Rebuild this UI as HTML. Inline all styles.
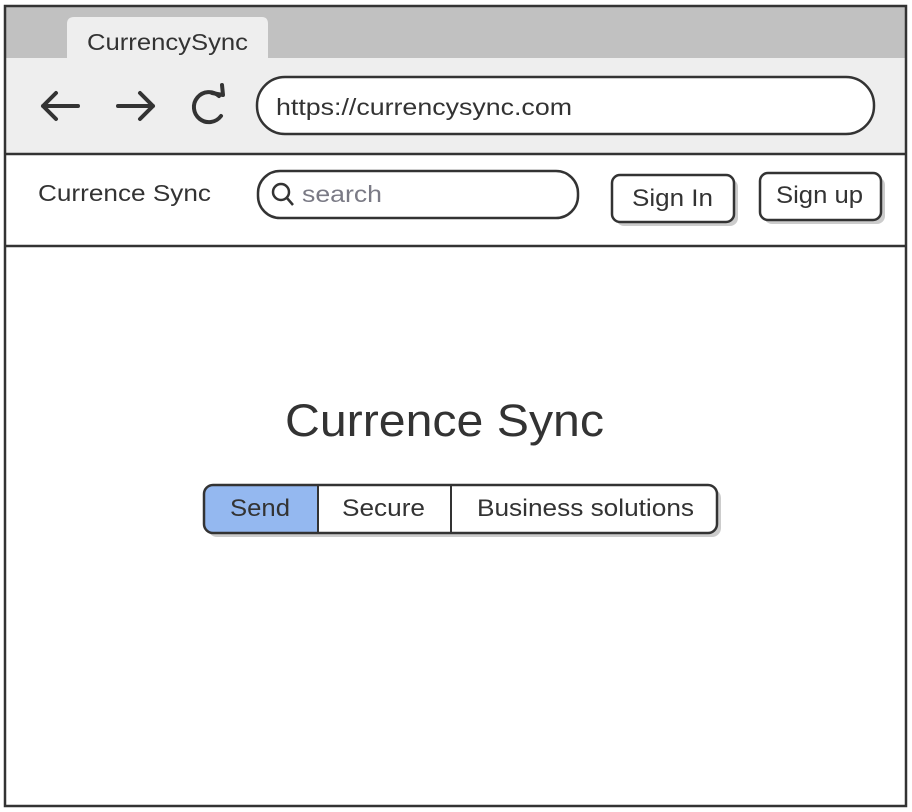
<!DOCTYPE html>
<html><head><style>
html,body{margin:0;padding:0;background:#fff;}
svg{display:block;}
text{font-family:"Liberation Sans",sans-serif;fill:#333;}
</style></head><body>
<svg width="912" height="812" viewBox="0 0 912 812" xmlns="http://www.w3.org/2000/svg">
<rect x="5" y="6" width="901" height="800" fill="#fff"/>
<rect x="5" y="6" width="901" height="52" fill="#c1c1c1"/>
<rect x="5" y="58" width="901" height="96" fill="#eeeeee"/>
<path d="M67 58 V24 Q67 17 74 17 H262 Q268 17 268 24 V58 Z" fill="#eeeeee"/>
<text x="87" y="50" font-size="23" textLength="161" lengthAdjust="spacingAndGlyphs">CurrencySync</text>
<g stroke="#333" stroke-width="4" fill="none" stroke-linecap="round" stroke-linejoin="round">
<path d="M43 106 H78 M56 93 L43 106 L56 119"/>
<path d="M118 106 H153 M140 93 L153 106 L140 119"/>
<path d="M219 96 A15 15 0 1 0 221 116"/>
<path d="M212 93 L223 95 L222 85" />
</g>
<rect x="257" y="77" width="617" height="57" rx="28" fill="#fff" stroke="#333" stroke-width="2.5"/>
<text x="276" y="115" font-size="23" textLength="296" lengthAdjust="spacingAndGlyphs">https://currencysync.com</text>
<line x1="5" y1="154" x2="906" y2="154" stroke="#333" stroke-width="2.5"/>
<line x1="5" y1="246" x2="906" y2="246" stroke="#333" stroke-width="2.5"/>
<text x="38" y="201" font-size="23" textLength="173" lengthAdjust="spacingAndGlyphs">Currence Sync</text>
<rect x="258" y="171" width="320" height="47" rx="22" fill="#fff" stroke="#333" stroke-width="2.5"/>
<circle cx="281" cy="192" r="8" fill="none" stroke="#333" stroke-width="2.5"/>
<line x1="287" y1="198" x2="293" y2="205" stroke="#333" stroke-width="2.5"/>
<text x="302" y="202" font-size="23" style="fill:#7a7a85" textLength="80" lengthAdjust="spacingAndGlyphs">search</text>
<rect x="616" y="179" width="122" height="47" rx="8" fill="#ccc"/>
<rect x="612" y="175" width="122" height="47" rx="8" fill="#fff" stroke="#333" stroke-width="2.5"/>
<text x="632" y="206" font-size="24" textLength="81" lengthAdjust="spacingAndGlyphs">Sign In</text>
<rect x="764" y="177" width="121" height="47" rx="8" fill="#ccc"/>
<rect x="760" y="173" width="121" height="47" rx="8" fill="#fff" stroke="#333" stroke-width="2.5"/>
<text x="776" y="203" font-size="24" textLength="87" lengthAdjust="spacingAndGlyphs">Sign up</text>
<text x="285" y="436" font-size="45" textLength="319" lengthAdjust="spacingAndGlyphs">Currence Sync</text>
<rect x="208" y="489" width="513" height="48" rx="9" fill="#ccc"/>
<rect x="204" y="485" width="513" height="48" rx="9" fill="#fff"/>
<path d="M318 485 H213 Q204 485 204 494 V524 Q204 533 213 533 H318 Z" fill="#94b8f0"/>
<rect x="204" y="485" width="513" height="48" rx="9" fill="none" stroke="#333" stroke-width="2.5"/>
<line x1="318" y1="485" x2="318" y2="533" stroke="#333" stroke-width="2"/>
<line x1="451" y1="485" x2="451" y2="533" stroke="#333" stroke-width="2"/>
<text x="230" y="516" font-size="24" textLength="60" lengthAdjust="spacingAndGlyphs">Send</text>
<text x="342" y="516" font-size="24" textLength="83" lengthAdjust="spacingAndGlyphs">Secure</text>
<text x="477" y="516" font-size="24" textLength="217" lengthAdjust="spacingAndGlyphs">Business solutions</text>
<rect x="5" y="6" width="901" height="800" fill="none" stroke="#333" stroke-width="2.5"/>
</svg>
</body></html>
